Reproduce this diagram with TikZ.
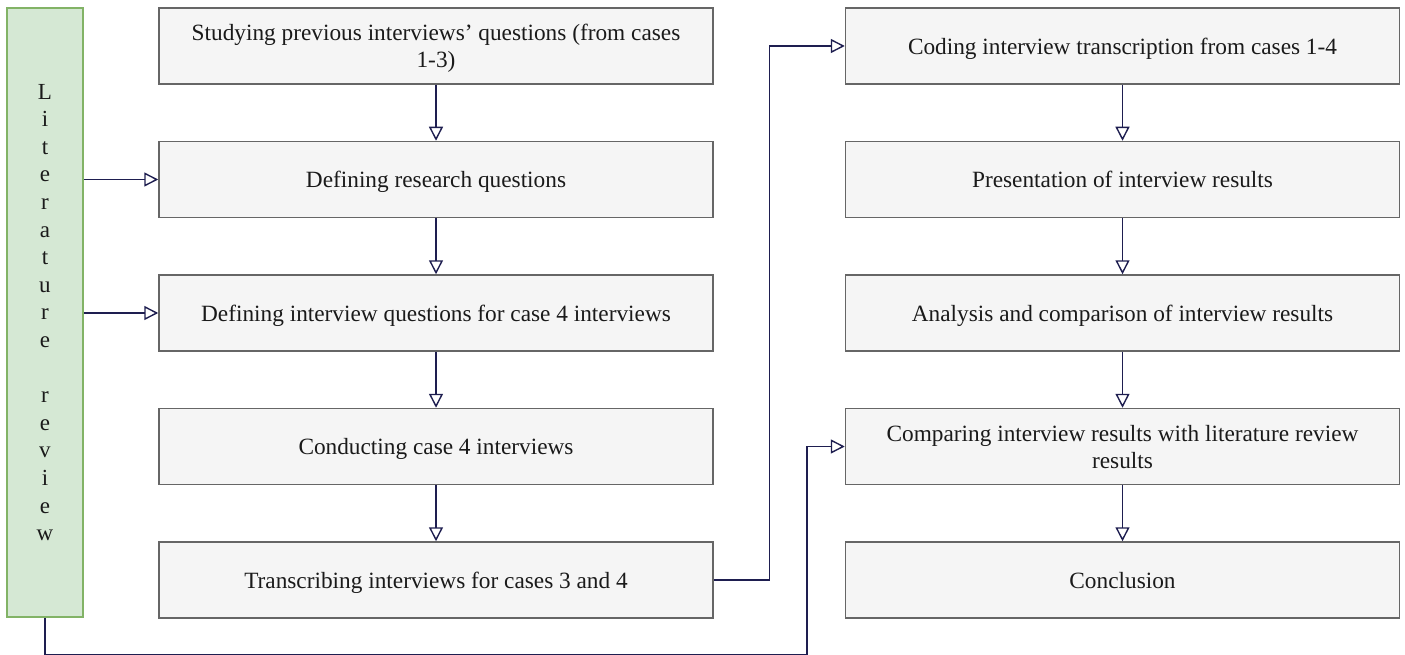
\documentclass[tikz,border=0pt]{standalone}
\usepackage{fontspec}
\setmainfont{Liberation Serif}
\usetikzlibrary{arrows.meta}
\definecolor{boxfill}{HTML}{F5F5F5}
\definecolor{boxline}{HTML}{666666}
\definecolor{litfill}{HTML}{D5E8D4}
\definecolor{litline}{HTML}{82B366}
\definecolor{flow}{HTML}{1E1E50}
\definecolor{txt}{HTML}{1A1A1A}
\begin{document}
\begin{tikzpicture}[x=1pt,y=-1pt,
  stepbox/.style={draw=boxline, fill=boxfill, line width=1.5pt,
    minimum width=554pt, minimum height=76pt, inner sep=0pt,
    text depth=0pt,
    align=center, text=txt, font=\fontsize{23.3}{27}\selectfont},
  litbox/.style={draw=litline, fill=litfill, line width=1.5pt,
    minimum width=76pt, minimum height=609pt, inner sep=0pt,
    align=center, text=txt, font=\fontsize{23}{27.6}\selectfont},
  flowline/.style={draw=flow, line width=1.4pt,
    -{Triangle[open, length=14pt, width=14pt, line width=1.4pt]}}]
\useasboundingbox (0,0) rectangle (1405,655);

% left column
\node[stepbox] (b1) at (436,46)    {Studying previous interviews' questions (from cases\\1-3)};
\node[stepbox] (b2) at (436,179.5) {Defining research questions};
\node[stepbox] (b3) at (436,313)   {Defining interview questions for case 4 interviews};
\node[stepbox] (b4) at (436,446.5) {Conducting case 4 interviews};
\node[stepbox] (b5) at (436,580)   {Transcribing interviews for cases 3 and 4};

% right column
\node[stepbox] (r1) at (1122.5,46)    {Coding interview transcription from cases 1-4};
\node[stepbox] (r2) at (1122.5,179.5) {Presentation of interview results};
\node[stepbox] (r3) at (1122.5,313)   {Analysis and comparison of interview results};
\node[stepbox] (r4) at (1122.5,446.5) {Comparing interview results with literature review\\results};
\node[stepbox] (r5) at (1122.5,580)   {Conclusion};

% literature review bar
\node[litbox] (lit) at (45,312.5) {L\\i\\t\\e\\r\\a\\t\\u\\r\\e\\\mbox{}\\r\\e\\v\\i\\e\\w};

% vertical flow
\draw[flowline] (b1.south) -- (b2.north);
\draw[flowline] (b2.south) -- (b3.north);
\draw[flowline] (b3.south) -- (b4.north);
\draw[flowline] (b4.south) -- (b5.north);
\draw[flowline] (r1.south) -- (r2.north);
\draw[flowline] (r2.south) -- (r3.north);
\draw[flowline] (r3.south) -- (r4.north);
\draw[flowline] (r4.south) -- (r5.north);

% literature inputs
\draw[flowline] (lit.east |- b2.west) -- (b2.west);
\draw[flowline] (lit.east |- b3.west) -- (b3.west);
\draw[flowline] (lit.south) -- ++(0,37) -- ++(762,0) |- (r4.west);

% hand-over to the coding step
\draw[flowline] (b5.east) -- ++(56,0) |- (r1.west);
\end{tikzpicture}
\end{document}
